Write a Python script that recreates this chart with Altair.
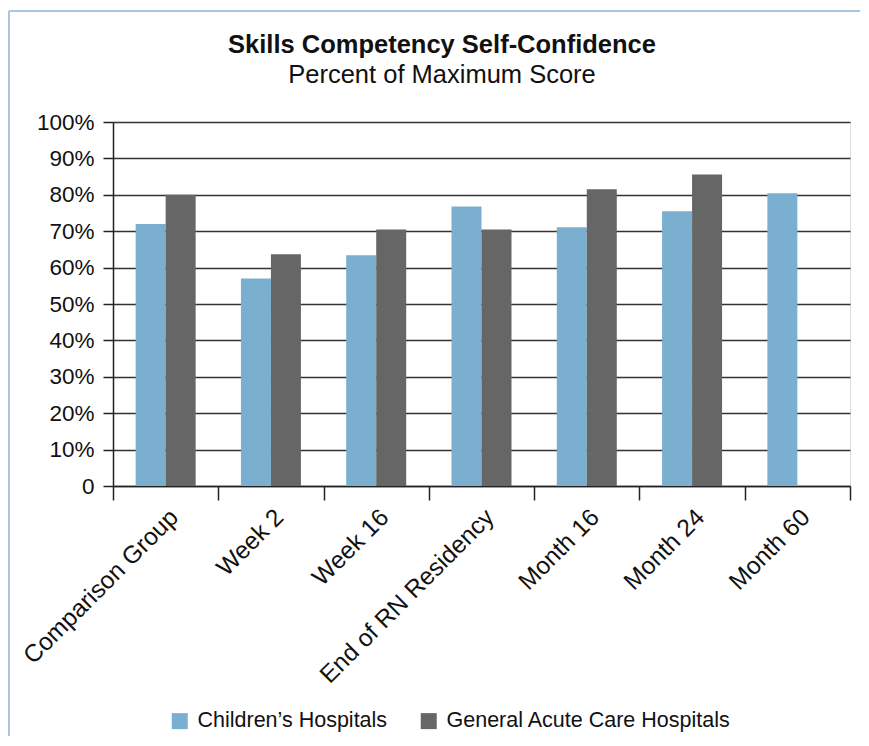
import altair as alt
import pandas as pd

categories = ["Comparison Group", "Week 2", "Week 16", "End of RN Residency",
              "Month 16", "Month 24", "Month 60"]
series = ["Children’s Hospitals", "General Acute Care Hospitals"]
children = [0.72, 0.57, 0.634, 0.768, 0.711, 0.755, 0.804]
general = [0.80, 0.637, 0.705, 0.705, 0.815, 0.856, None]
colors = ["#7BAFCF", "#666666"]
title_text = "Skills Competency Self-Confidence"
subtitle_text = "Percent of Maximum Score"

rows = []
for c, v in zip(categories, children):
    rows.append({"cat": c, "series": series[0], "value": v})
for c, v in zip(categories, general):
    if v is not None:
        rows.append({"cat": c, "series": series[1], "value": v})
df = pd.DataFrame(rows)

FONT = "Liberation Sans"
W, H = 737, 364

bars = alt.Chart(df).mark_bar().encode(
    x=alt.X("cat:N", sort=categories, title=None,
            scale=alt.Scale(paddingInner=0, paddingOuter=0),
            axis=alt.Axis(labelAngle=-45, labelFontSize=24.5, labelFont=FONT,
                          labelColor="#111", labelLimit=0, tickBand="extent", tickSize=14,
                          tickColor="#222", tickWidth=1.5, domainColor="#222",
                          domainWidth=1.5, labelPadding=5, grid=False)),
    xOffset=alt.XOffset("series:N", sort=series,
                        scale=alt.Scale(paddingOuter=0.755, paddingInner=0)),
    y=alt.Y("value:Q", title=None,
            scale=alt.Scale(domain=[0, 1]),
            axis=alt.Axis(values=[i / 10 for i in range(11)],
                          labelExpr="datum.value == 0 ? '0' : format(datum.value, '.0%')",
                          labelFontSize=22.5, labelFont=FONT, labelColor="#111",
                          tickSize=10, tickColor="#222", tickWidth=1.5,
                          domainColor="#222", domainWidth=1.5, labelPadding=9,
                          grid=True, gridColor="#333", gridWidth=1.5)),
    color=alt.Color("series:N", sort=series,
                    scale=alt.Scale(domain=series, range=colors),
                    legend=alt.Legend(title=None, orient="none", direction="horizontal",
                                      legendX=56, legendY=588,
                                      symbolType="square", symbolSize=256,
                                      symbolStrokeWidth=0, labelFontSize=21.5,
                                      labelFont=FONT, labelColor="#111", labelLimit=0,
                                      labelOffset=7, columnPadding=30)),
)

one = pd.DataFrame({"a": [0]})
border_left = alt.Chart(one).mark_rule(color="#A8C6E0", strokeWidth=2).encode(
    x=alt.value(-104), y=alt.value(-111), y2=alt.value(640))
border_top = alt.Chart(one).mark_rule(color="#A8C6E0", strokeWidth=2).encode(
    x=alt.value(-104), x2=alt.value(760), y=alt.value(-111))

title = alt.Chart(pd.DataFrame({"t": [title_text]})).mark_text(
    font=FONT, fontSize=25.5, fontWeight="bold", color="#111",
    align="center", baseline="alphabetic").encode(
    text="t:N", x=alt.value(329), y=alt.value(-69))
subtitle = alt.Chart(pd.DataFrame({"t": [subtitle_text]})).mark_text(
    font=FONT, fontSize=25.5, color="#111",
    align="center", baseline="alphabetic").encode(
    text="t:N", x=alt.value(329), y=alt.value(-39))

chart = alt.layer(border_left, border_top, title, subtitle, bars).properties(
    width=W, height=H,
    autosize=alt.AutoSizeParams(type="none"),
    padding={"left": 105, "top": 114, "right": 10, "bottom": 250},
).configure_view(stroke="#222", strokeWidth=1.5).configure(background="white")

chart.save("out.html", embed_options={"renderer": "svg", "actions": False})
